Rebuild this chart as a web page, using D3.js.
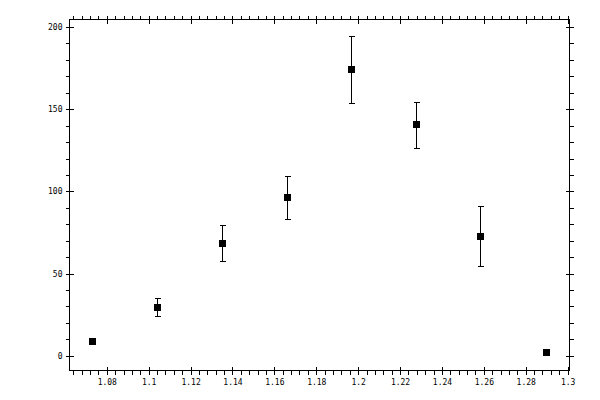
<!DOCTYPE html>
<html>
<head>
<meta charset="utf-8">
<script src="https://cdn.jsdelivr.net/npm/d3@7"></script>
<style>
  body { margin: 0; background: #fff; }
  svg text { font-family: "DejaVu Sans Mono", monospace; font-size: 8px; fill: #000; }
</style>
</head>
<body>
<script>
const [w, h] = [600, 400];

// data
const xs = [1.0731, 1.1041, 1.1350, 1.1660, 1.1965, 1.2274, 1.2584, 1.2895];
const ys = [8.8, 29.4, 68.4, 96.4, 174.3, 140.8, 72.6, 2.1];
const errHi = [null, 34.9, 79.3, 109.5, 194.7, 154.5, 91.3, null];
const errLo = [null, 24.0, 57.4, 83.0, 153.6, 126.2, 54.6, null];

const xTicks = [1.08, 1.1, 1.12, 1.14, 1.16, 1.18, 1.2, 1.22, 1.24, 1.26, 1.28, 1.3];
const yTicks = [0, 50, 100, 150, 200];
const xMinorStep = 0.004;
const yMinorStep = 10;

const [pLeft, pRight, pTop, pBottom] = [69.5, 569.5, 19.5, 370.5];

const x = d3.scaleLinear().domain([1.0622, 1.3009]).range([pLeft, pRight]);
const y = d3.scaleLinear().domain([-9.0, 204.6]).range([pBottom, pTop]);

const xMinor = d3.range(Math.ceil(1.0622 / xMinorStep), Math.floor(1.3009 / xMinorStep) + 1)
  .map(i => +(i * xMinorStep).toFixed(3))
  .filter(v => !xTicks.some(t => Math.abs(t - v) < 1e-6));
const yMinor = d3.range(0, 205, yMinorStep).filter(v => !yTicks.includes(v));

const fmt = v => String(+v.toFixed(2));

const svg = d3.select('body').append('svg')
  .attr('width', w)
  .attr('height', h)
  .attr('shape-rendering', 'crispEdges');

// frame
svg.append('rect')
  .attr('x', pLeft).attr('y', pTop)
  .attr('width', pRight - pLeft).attr('height', pBottom - pTop)
  .attr('fill', 'none').attr('stroke', '#000');

let addAxis = (axis, tx, ty, inner) => {
  const g = svg.append('g').attr('transform', `translate(${tx},${ty})`).call(axis);
  g.select('.domain').remove();
  g.selectAll('.tick line').attr('stroke', '#000');
  if (inner) g.selectAll('.tick line').each(function () {
    const l = d3.select(this);
    if (l.attr('y2') !== null) l.attr('y1', -l.attr('y2'));
    if (l.attr('x2') !== null) l.attr('x1', -l.attr('x2'));
  });
  return g;
};

// bottom
addAxis(d3.axisBottom(x).tickValues(xMinor).tickSize(4).tickFormat(''), 0, pBottom, false);
addAxis(d3.axisBottom(x).tickValues(xTicks).tickSize(4).tickPadding(5).tickFormat(fmt), 0, pBottom, true);
// top
addAxis(d3.axisTop(x).tickValues(xMinor).tickSize(4).tickFormat(''), 0, pTop, false);
addAxis(d3.axisTop(x).tickValues(xTicks).tickSize(4).tickFormat(''), 0, pTop, true);
// left
addAxis(d3.axisLeft(y).tickValues(yMinor).tickSize(4).tickFormat(''), pLeft, 0, false);
addAxis(d3.axisLeft(y).tickValues(yTicks).tickSize(4).tickPadding(3).tickFormat(d3.format('d')), pLeft, 0, true);
// right
addAxis(d3.axisRight(y).tickValues(yMinor).tickSize(4).tickFormat(''), pRight, 0, false);
addAxis(d3.axisRight(y).tickValues(yTicks).tickSize(4).tickFormat(''), pRight, 0, true);

svg.selectAll('.tick text').attr('font-family', null).attr('font-size', null);

// error bars
const pts = xs.map((v, i) => ({ x: v, y: ys[i], hi: errHi[i], lo: errLo[i] }));
const bars = svg.append('g').selectAll('g')
  .data(pts.filter(d => d.hi !== null))
  .enter().append('g')
  .attr('stroke', '#000');

bars.append('line')
  .attr('x1', d => Math.round(x(d.x)) + 0.5).attr('x2', d => Math.round(x(d.x)) + 0.5)
  .attr('y1', d => y(d.hi)).attr('y2', d => y(d.lo));
bars.append('line')
  .attr('x1', d => Math.round(x(d.x)) - 2.5).attr('x2', d => Math.round(x(d.x)) + 3.5)
  .attr('y1', d => Math.round(y(d.hi)) + 0.5).attr('y2', d => Math.round(y(d.hi)) + 0.5);
bars.append('line')
  .attr('x1', d => Math.round(x(d.x)) - 2.5).attr('x2', d => Math.round(x(d.x)) + 3.5)
  .attr('y1', d => Math.round(y(d.lo)) + 0.5).attr('y2', d => Math.round(y(d.lo)) + 0.5);

// markers
svg.append('g').selectAll('rect')
  .data(pts)
  .enter().append('rect')
  .attr('x', d => Math.round(x(d.x)) - 3)
  .attr('y', d => Math.round(y(d.y)) - 3)
  .attr('width', 7)
  .attr('height', 7)
  .attr('fill', '#000');
</script>
</body>
</html>
